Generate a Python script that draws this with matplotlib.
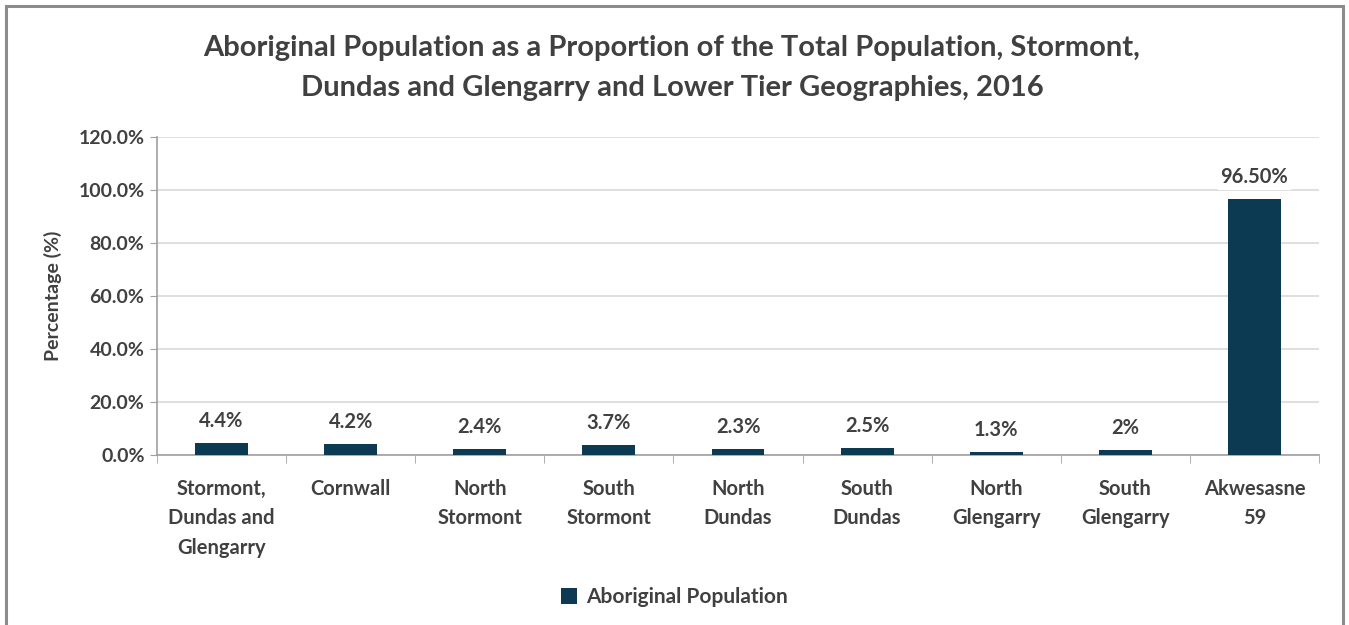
import numpy as np
import matplotlib.pyplot as plt
from matplotlib.patches import Rectangle

categories = ['Stormont,\nDundas and\nGlengarry', 'Cornwall', 'North\nStormont', 'South\nStormont',
              'North\nDundas', 'South\nDundas', 'North\nGlengarry', 'South\nGlengarry', 'Akwesasne\n59']
values = [4.4, 4.2, 2.4, 3.7, 2.3, 2.5, 1.3, 2.0, 96.5]
labels = ['4.4%', '4.2%', '2.4%', '3.7%', '2.3%', '2.5%', '1.3%', '2%', '96.50%']
yticks = [0, 20, 40, 60, 80, 100, 120]

plt.rcParams['font.family'] = ['Lato', 'DejaVu Sans']
txt = '#404040'
bar_col = '#0b3a52'

fig = plt.figure(figsize=(13.49, 6.25), dpi=100)
fig.patches.append(Rectangle((6 / 1349, -0.01), 1337 / 1349, 1 - 6 / 625 + 0.01, transform=fig.transFigure,
                             fill=False, edgecolor='#8c8c8c', linewidth=2.2))
ax = fig.add_axes([157 / 1349, 1 - 455 / 625, (1319 - 157) / 1349, (455 - 137) / 625])

x = np.arange(len(categories))
ax.bar(x, values, width=0.41, color=bar_col, zorder=3, label='Aboriginal Population')
for xi, v, lab in zip(x, values, labels):
    ax.text(xi, v + 4.5, lab, ha='center', va='bottom', fontsize=14.5, fontweight='bold', color=txt, zorder=4,
            bbox=dict(facecolor='white', edgecolor='none', pad=2))

ax.set_xlim(-0.5, len(categories) - 0.5)
ax.set_ylim(0, 120)
ax.set_yticks(yticks)
ax.set_yticklabels([f'{t:.1f}%' for t in yticks], fontsize=14, fontweight='bold', color=txt)
ax.yaxis.grid(True, color='#d9d9d9', linewidth=1.2, zorder=0)
ax.set_xticks(x)
ax.set_xticklabels(categories, fontsize=14.5, fontweight='bold', color=txt, linespacing=1.6)
ax.set_xticks(np.arange(len(categories) + 1) - 0.5, minor=True)
ax.tick_params(axis='x', which='major', length=0, pad=17)
ax.tick_params(axis='x', which='minor', length=6, color='#a0a0a0')
ax.tick_params(axis='y', length=5, color='#a0a0a0', pad=4)
for s in ['top', 'right']:
    ax.spines[s].set_visible(False)
for s in ['left', 'bottom']:
    ax.spines[s].set_color('#a0a0a0')
    ax.spines[s].set_linewidth(1.2)
ax.set_ylabel('Percentage (%)', fontsize=14, fontweight='bold', color=txt, labelpad=12)

fig.text(672 / 1349, 1 - 68 / 625,
         'Aboriginal Population as a Proportion of the Total Population, Stormont,\n'
         'Dundas and Glengarry and Lower Tier Geographies, 2016',
         ha='center', va='center', fontsize=21, fontweight='bold', color=txt, linespacing=1.62)

fig.legend(loc='center', bbox_to_anchor=(674 / 1349, 1 - 597 / 625), frameon=False, handlelength=0.8,
           handleheight=0.8, handletextpad=0.4, prop={'size': 15, 'weight': 'bold'}, labelcolor=txt)

fig.savefig('out.png', dpi=100)
